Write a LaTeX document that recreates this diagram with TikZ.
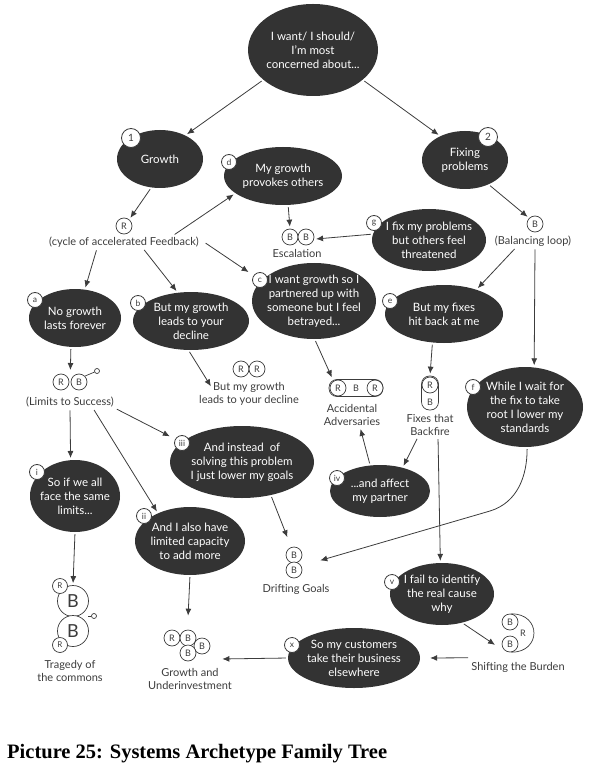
\documentclass[tikz,border=0pt]{standalone}
\usepackage{fontspec}
\setmainfont{Lato}
\newfontfamily\capfont{Liberation Serif}
\usetikzlibrary{arrows.meta,shapes.geometric}
\definecolor{bubblegray}{HTML}{333333}
\definecolor{ink}{HTML}{3C3C3C}
\tikzset{%
        ->,
        >={Latex[length=7pt,width=6pt]},
        shorten > = 2pt,
        shorten < = 2pt
}
\tikzstyle{bubble}=[
    ellipse,
    fill = bubblegray,
    text = white,
    align = center,
    inner sep = -12pt,
    font = \fontsize{11.5}{14}\selectfont
]
\tikzstyle{badge}=[
    circle,
    draw = ink,
    fill = white,
    line width = 0.8pt,
    minimum size = 15pt,
    inner sep = 0pt,
    text = ink,
    font = \fontsize{8.5}{9}\selectfont
]
\tikzstyle{loopc}=[
    circle,
    draw = ink,
    fill = white,
    line width = 0.7pt,
    minimum size = 16pt,
    inner sep = 0pt,
    text = ink,
    font = \fontsize{9}{9}\selectfont
]
\tikzstyle{capsule}=[
    rectangle,
    rounded corners = 8pt,
    draw = ink,
    line width = 0.7pt,
    inner sep = 0pt,
    text = ink,
    font = \fontsize{9}{9}\selectfont
]
\tikzstyle{tag}=[
    text = ink,
    align = center,
    inner sep = 1pt,
    font = \fontsize{11}{13.5}\selectfont
]
\tikzstyle{stem}=[
    -,
    draw = ink,
    line width = 0.7pt,
    shorten > = 0pt,
    shorten < = 0pt
]
\tikzstyle{every edge}=[
    draw = ink,
    line width = 0.8pt
]

\begin{document}
\begin{tikzpicture}[x=1pt, y=-1pt]
    \useasboundingbox (0,0) rectangle (593,775);
    \node[bubble, minimum width=130, minimum height=92] (top) at (313,50) {I want/ I should/\\ I'm most\\ concerned about...};
    \node[bubble, minimum width=86, minimum height=58] (1) at (160,159) {Growth};
    \node[bubble, minimum width=86, minimum height=58] (2) at (465,160) {Fixing\\ problems};
    \node[bubble, minimum width=118, minimum height=58] (d) at (283,176) {My growth\\ provokes others};
    \node[bubble, minimum width=114, minimum height=62] (g) at (429,240) {I fix my problems\\ but others feel\\ threatened};
    \node[bubble, minimum width=92, minimum height=58] (a) at (75,318) {No growth\\ lasts forever};
    \node[bubble, minimum width=116, minimum height=58] (b) at (191,321) {But my growth\\ leads to your\\ decline};
    \node[bubble, minimum width=124, minimum height=76] (c) at (314,301) {I want growth so I\\ partnered up with\\ someone but I feel\\ betrayed...};
    \node[bubble, minimum width=118, minimum height=58] (e) at (444,314) {But my fixes\\ hit back at me};
    \node[bubble, minimum width=116, minimum height=80] (f) at (525,407) {While I wait for\\ the fix to take\\ root I lower my\\ standards};
    \node[bubble, minimum width=144, minimum height=72] (iii) at (242,462) {And instead\ \ of\\ solving this problem\\ I just lower my goals};
    \node[bubble, minimum width=100, minimum height=52] (iv) at (380,491) {...and affect\\ my partner};
    \node[bubble, minimum width=90, minimum height=72] (i) at (75,496) {So if we all\\ face the same\\ limits...};
    \node[bubble, minimum width=110, minimum height=68] (ii) at (190,541) {And I also have\\ limited capacity\\ to add more};
    \node[bubble, minimum width=104, minimum height=62] (v) at (442,594) {I fail to identify\\ the real cause\\ why};
    \node[bubble, minimum width=132, minimum height=60] (x) at (354,658) {So my customers\\ take their business\\ elsewhere};

    \node[badge, minimum size=19pt, font=\fontsize{10}{10}\selectfont] (n1) at (131,138) {1};
    \node[badge, minimum size=19pt, font=\fontsize{10}{10}\selectfont] (n2) at (488,137) {2};
    \node[badge] (nd) at (229,162) {d};
    \node[badge] (ng) at (374,223) {g};
    \node[badge] (nc) at (260,280) {c};
    \node[badge] (na) at (35,300) {a};
    \node[badge] (nb) at (138,303) {b};
    \node[badge] (ne) at (390,301) {e};
    \node[badge] (nf) at (473,387) {f};
    \node[badge] (niii) at (182,443) {iii};
    \node[badge] (niv) at (337,478) {iv};
    \node[badge] (ni) at (37,472) {i};
    \node[badge] (nii) at (144,516) {ii};
    \node[badge] (nv) at (392,582) {v};
    \node[badge] (nx) at (292,645) {x};

    \node[loopc] (cr) at (124,226) {R};
    \node[tag] (cyc) at (124,242) {(cycle of accelerated Feedback)};
    \node[loopc] (esc1) at (290,237) {B};
    \node[loopc] (esc2) at (306,237) {B};
    \node[tag] (esct) at (297,253) {Escalation};
    \node[loopc] (bal) at (535,224) {B};
    \node[tag] (balt) at (533,241) {(Balancing loop)};
    \node[loopc] (lim1) at (61,382) {R};
    \node[loopc] (lim2) at (79,382) {B};
    \node[circle, draw=ink, line width=0.7pt, minimum size=5pt, inner sep=0pt] (lp1) at (97,371) {};
    \draw[stem] (lim2.45) -- (lp1);
    \node[tag] (limt) at (70,402) {(Limits to Success)};
    \node[loopc] (rr1) at (241,369) {R};
    \node[loopc] (rr2) at (257,369) {R};
    \node[tag] (rrt) at (249,394) {But my growth\\ leads to your decline};
    \node[capsule, minimum width=54pt, minimum height=17pt] (aa) at (356,388) {B};
    \node[loopc] (aa1) at (338,388) {R};
    \node[loopc] (aa2) at (375,388) {R};
    \node[tag] (aat) at (352,415) {Accidental\\ Adversaries};
    \node[capsule, minimum width=17pt, minimum height=34pt] (fx) at (430,393) {};
    \node[loopc] (fx1) at (430,385) {R};
    \node[text=ink, font=\fontsize{9}{9}\selectfont] (fx2) at (430,402) {B};
    \node[tag] (fxt) at (430,425) {Fixes that\\ Backfire};
    \node[loopc] (dg1) at (294,555) {B};
    \node[loopc] (dg2) at (294,570) {B};
    \node[tag] (dgt) at (296,589) {Drifting Goals};
    \node[loopc, minimum size=31pt, font=\fontsize{18}{18}\selectfont] (tb1) at (73,601) {B};
    \node[loopc, minimum size=31pt, font=\fontsize{18}{18}\selectfont] (tb2) at (73,631) {B};
    \node[loopc, minimum size=15pt, font=\fontsize{8}{8}\selectfont] (tr1) at (60,586) {R};
    \node[loopc, minimum size=15pt, font=\fontsize{8}{8}\selectfont] (tr2) at (60,645) {R};
    \coordinate (tn) at (88,616);
    \node[circle, draw=ink, line width=0.7pt, minimum size=5pt, inner sep=0pt] (lp2) at (94,616) {};
    \draw[stem] (tn) -- (lp2);
    \node[tag] (trt) at (70,671) {Tragedy of\\ the commons};
    \node[loopc] (gr) at (172,638) {R};
    \node[loopc] (gb1) at (188,638) {B};
    \node[loopc] (gb2) at (202,646) {B};
    \node[loopc] (gb3) at (188,653) {B};
    \node[tag] (gut) at (190,679) {Growth and\\ Underinvestment};
    \node[loopc] (sb1) at (510,622) {B};
    \node[loopc] (sb2) at (510,644) {B};
    \draw[stem] (sb1.80) to[out=0, in=0, looseness=2] (sb2.-80);
    \node[text=ink, font=\fontsize{9}{9}\selectfont] (sbr) at (523,633) {R};
    \node[tag] (sbt) at (518,667) {Shifting the Burden};

    \path
    (top.-149) edge (1.43)
    (top.-31) edge (2.136)
    (1.-107) edge (cr.51)
    ([xshift=49pt]cyc.north) edge (d.200)
    ([xshift=-27pt]cyc.south) edge (a.71)
    ([xshift=19pt]cyc.south) edge (b.115)
    ([xshift=4pt]cyc.east) edge[shorten >=6pt] (nc.145)
    (d.-80) edge (esc1.north)
    (g.174) edge (esc2.-15)
    (2.-46) edge (bal.135)
    ([xshift=-17pt]balt.south) edge (e.37)
    ([xshift=2pt]balt.south) edge (f.77)
    (a.-98) edge ([xshift=1pt,yshift=10pt]lim1.east)
    (b.-95) edge ([xshift=14pt,yshift=6pt]rrt.west)
    (c.-89) edge ([xshift=4pt]aa.north west)
    (e.-112) edge (fx.north)
    (limt.south) edge (i.97)
    ([xshift=23pt]limt.south) edge (ii.139)
    (limt.south east) edge[shorten >=6pt] (niii.150)
    (iv.111) edge ([xshift=8pt]aat.south)
    ([xshift=-12pt]fxt.south) edge (iv.46)
    ([xshift=8pt]fxt.south) edge (v.93)
    (i.south) edge (tb1.north)
    (ii.south) edge ([yshift=12pt]gb1.north)
    (iii.-49) edge ([yshift=10pt]dg1.north west)
    (v.-55) edge ([xshift=-5pt,yshift=-2pt]sb2.west)
    ([yshift=3pt]sbt.north west) edge ([xshift=8pt]x.east)
    (x.west) edge ([xshift=10pt,yshift=-13pt]gb2.east)
    ;
    \coordinate (fbend) at (490,511);
    \draw[draw=ink, line width=0.8pt] (f.-87) to[out=-90, in=17] (fbend) -- ([xshift=16pt,yshift=9pt]dg2.east);

    \node[anchor=base west, inner sep=0pt, font=\capfont\bfseries\fontsize{20.5}{24}\selectfont] (cap) at (7,758) {Picture 25: Systems Archetype Family Tree};
\end{tikzpicture}
\end{document}
